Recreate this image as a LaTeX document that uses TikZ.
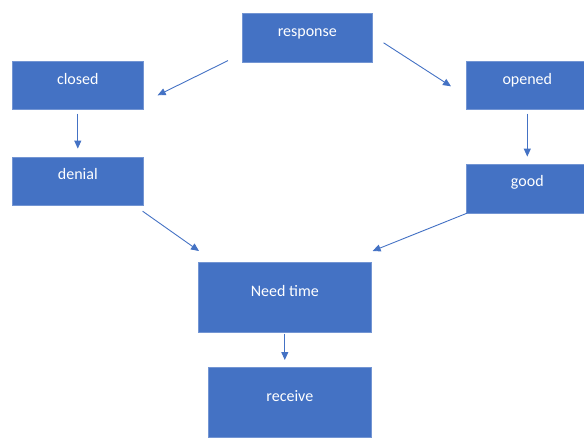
\documentclass[tikz,border=0pt]{standalone}
\usepackage{fontspec}
\setmainfont{Carlito}
\usetikzlibrary{positioning,arrows.meta}
\definecolor{boxblue}{HTML}{4472C4}

\begin{document}
\begin{tikzpicture}[x=1pt,y=-1pt,>={Triangle[length=8pt,width=7pt]},
  box/.style={draw=boxblue!75!white,line width=0.6pt,fill=boxblue,text=white,
    font=\fontsize{16}{18}\selectfont,inner sep=0pt,anchor=north west,
    minimum width=131pt,text height=23pt,text depth=25pt},
  bigbox/.style={box,text height=34pt,text depth=36pt},
  arr/.style={->,draw=boxblue,line width=0.9pt}]
  \path[use as bounding box,clip] (0,0) rectangle (584,437);
  % boxes
  \node[box,minimum width=130pt,text depth=26pt] (response) at (242,13) {response};
  \node[box] (closed) at (12,61) {closed};
  \node[box] (denial) [below=47pt of closed] {denial};
  \node[box,minimum width=122pt] (opened) at (466,61) {opened};
  \node[box,minimum width=122pt,text depth=26pt] (good) [below=54pt of opened] {good};
  \node[bigbox,minimum width=173pt] (needtime) at (198,262) {Need time};
  \node[bigbox,minimum width=163pt] (receive) at (208,367) {receive};

  \draw[arr] ([shift={(-14,-2)}]response.south west) -- ([shift={(14,10)}]closed.east);
  \draw[arr] ([shift={(11,5)}]response.east) -- ([shift={(-15,1)}]opened.west);
  \draw[arr,shorten <=4pt,shorten >=8pt] (closed) -- (denial);
  \draw[arr,shorten <=4pt,shorten >=7pt] (opened) -- (good);
  \draw[arr] ([shift={(-1,6)}]denial.south east) -- ([shift={(1,-11)}]needtime.north west);
  \draw[arr] ([shift={(1,0)}]good.south west) -- ([shift={(1,-11)}]needtime.north east);
  \draw[arr,shorten <=1pt,shorten >=7pt] (needtime.south) -- (needtime.south |- receive.north);
\end{tikzpicture}
\end{document}
